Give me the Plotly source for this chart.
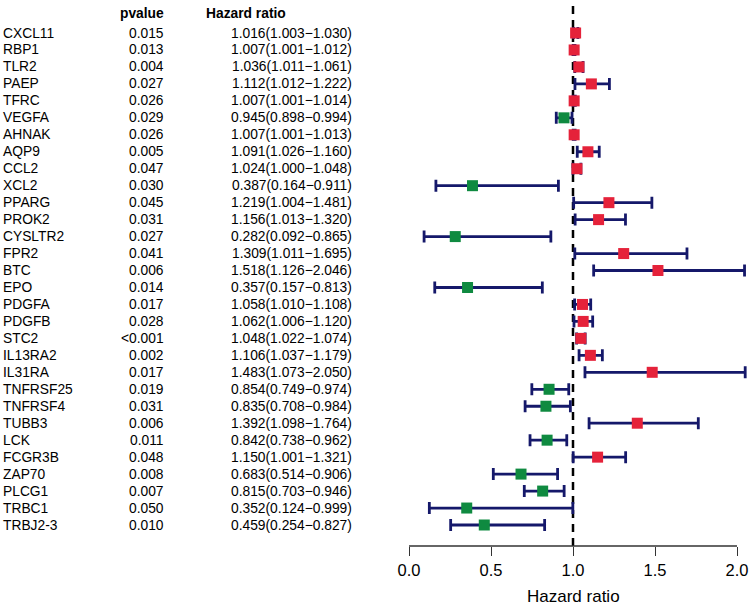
import plotly.graph_objects as go

genes = ["CXCL11", "RBP1", "TLR2", "PAEP", "TFRC", "VEGFA", "AHNAK", "AQP9", "CCL2", "XCL2",
         "PPARG", "PROK2", "CYSLTR2", "FPR2", "BTC", "EPO", "PDGFA", "PDGFB", "STC2", "IL13RA2",
         "IL31RA", "TNFRSF25", "TNFRSF4", "TUBB3", "LCK", "FCGR3B", "ZAP70", "PLCG1", "TRBC1", "TRBJ2-3"]
pvalues = ["0.015", "0.013", "0.004", "0.027", "0.026", "0.029", "0.026", "0.005", "0.047", "0.030",
           "0.045", "0.031", "0.027", "0.041", "0.006", "0.014", "0.017", "0.028", "<0.001", "0.002",
           "0.017", "0.019", "0.031", "0.006", "0.011", "0.048", "0.008", "0.007", "0.050", "0.010"]
hr = [1.016, 1.007, 1.036, 1.112, 1.007, 0.945, 1.007, 1.091, 1.024, 0.387,
      1.219, 1.156, 0.282, 1.309, 1.518, 0.357, 1.058, 1.062, 1.048, 1.106,
      1.483, 0.854, 0.835, 1.392, 0.842, 1.150, 0.683, 0.815, 0.352, 0.459]
lower = [1.003, 1.001, 1.011, 1.012, 1.001, 0.898, 1.001, 1.026, 1.000, 0.164,
         1.004, 1.013, 0.092, 1.011, 1.126, 0.157, 1.010, 1.006, 1.022, 1.037,
         1.073, 0.749, 0.708, 1.098, 0.738, 1.001, 0.514, 0.703, 0.124, 0.254]
upper = [1.030, 1.012, 1.061, 1.222, 1.014, 0.994, 1.013, 1.160, 1.048, 0.911,
         1.481, 1.320, 0.865, 1.695, 2.046, 0.813, 1.108, 1.120, 1.074, 1.179,
         2.050, 0.974, 0.984, 1.764, 0.962, 1.321, 0.906, 0.946, 0.999, 0.827]
xticks = [0.0, 0.5, 1.0, 1.5, 2.0]

n = len(genes)
ypos = [n - i for i in range(n)]
RED = "#E5223A"
GREEN = "#0F8A40"
NAVY = "#15186A"
FONT = "Liberation Sans, Arial, sans-serif"

W, H = 750, 606
x0px, x2px = 409, 737
ppu = (x2px - x0px) / 2.0
xmax = (W - x0px) / ppu
row_top_px, row_bot_px, axis_px = 33, 525, 546
rpp = (row_bot_px - row_top_px) / (n - 1)
ymin = 1 - (axis_px - row_bot_px) / rpp
ymax = n + row_top_px / rpp

fig = go.Figure()
fig.add_trace(go.Scatter(
    x=hr, y=ypos, mode="markers",
    marker=dict(symbol="square", size=11, color=[GREEN if v < 1 else RED for v in hr]),
    error_x=dict(type="data", symmetric=False,
                 array=[u - h for u, h in zip(upper, hr)],
                 arrayminus=[h - l for h, l in zip(hr, lower)],
                 color=NAVY, thickness=2.8, width=6),
    showlegend=False, hoverinfo="skip"))

fig.add_shape(type="line", xref="x", yref="paper", x0=1, x1=1, y0=0, y1=1,
              line=dict(color="black", width=2.5, dash="8px,6px"), layer="below")
fig.add_shape(type="line", xref="x", yref="paper", x0=0, x1=2, y0=0, y1=0,
              line=dict(color="#333333", width=1.3))

ann = []
def px2paper(px):
    return px / W
TF = dict(size=13.8, color="black", family=FONT)
for i, g in enumerate(genes):
    y = ypos[i]
    ann.append(dict(x=px2paper(1), y=y, xref="paper", yref="y", text=g, xanchor="left",
                    showarrow=False, font=TF))
    ann.append(dict(x=px2paper(166), y=y, xref="paper", yref="y", text=pvalues[i], xanchor="right",
                    showarrow=False, font=TF))
    txt = f"{hr[i]:.3f}({lower[i]:.3f}\u2212{upper[i]:.3f})"
    ann.append(dict(x=px2paper(354), y=y, xref="paper", yref="y", text=txt, xanchor="right",
                    showarrow=False, font=TF))
yh = n + (row_top_px - 13) / rpp
ann.append(dict(x=px2paper(166), y=yh, xref="paper", yref="y", text="<b>pvalue</b>", xanchor="right",
                showarrow=False, font=TF))
ann.append(dict(x=px2paper(288), y=yh, xref="paper", yref="y", text="<b>Hazard ratio</b>", xanchor="right",
                showarrow=False, font=TF))
ann.append(dict(x=1.0, y=-(596 - axis_px) / (axis_px), xref="x", yref="paper", text="Hazard ratio",
                xanchor="center", yanchor="middle",
                showarrow=False, font=dict(size=17, color="black", family=FONT)))

fig.update_layout(
    width=W, height=H, margin=dict(l=0, r=0, t=0, b=H - axis_px, autoexpand=False),
    paper_bgcolor="white", plot_bgcolor="white",
    annotations=ann,
    xaxis=dict(domain=[x0px / W, 1], range=[0, xmax], tickvals=xticks,
               ticktext=[f"{v:.1f}" for v in xticks], ticks="outside", ticklen=9,
               tickwidth=1.3, tickcolor="#333333", showgrid=False, zeroline=False,
               showline=False, tickfont=dict(size=16.5, color="black", family=FONT)),
    yaxis=dict(range=[ymin, ymax], showgrid=False, zeroline=False, showticklabels=False,
               showline=False, ticks=""),
)
fig.write_html("out.html", config={"displayModeBar": False},
               post_script="document.body.style.margin='0px';document.body.style.overflow='hidden';")
